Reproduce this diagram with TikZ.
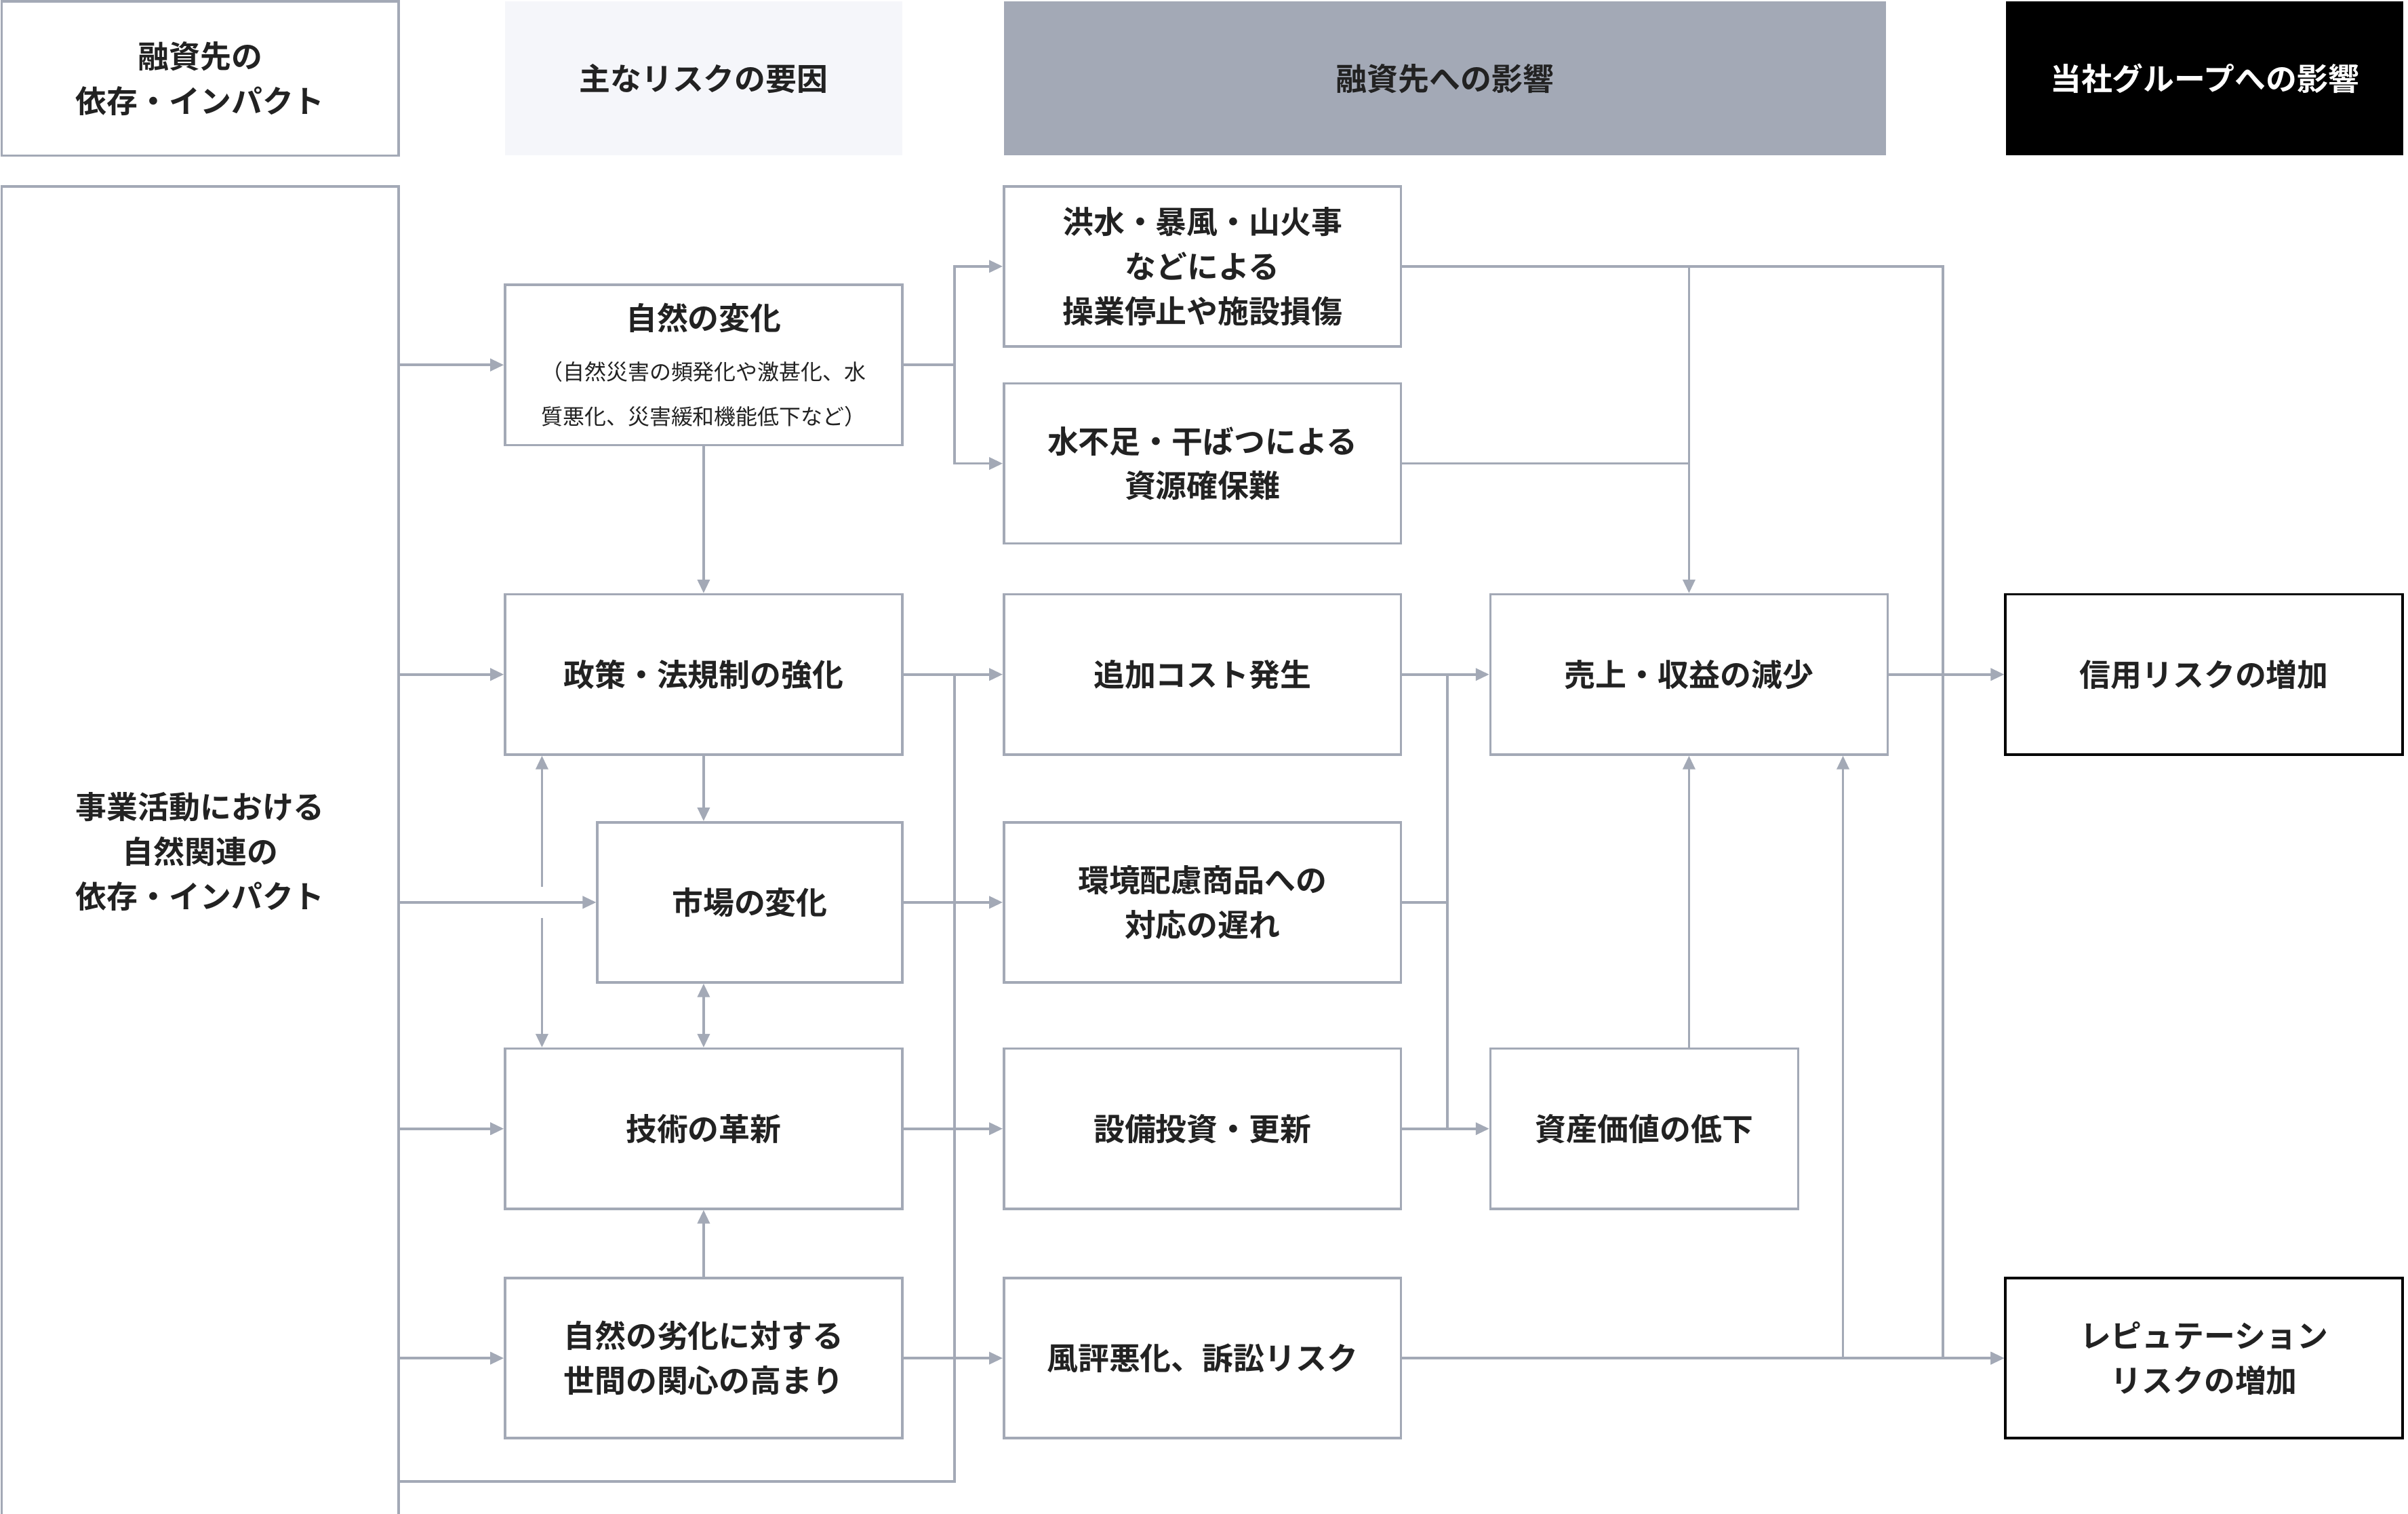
\documentclass[tikz,border=0pt]{standalone}
\usepackage{fontspec}
\setmainfont{Noto Sans CJK JP}[BoldFont={* Bold}]
\usetikzlibrary{arrows.meta,positioning}
\definecolor{lg}{HTML}{A3A9B6}
\definecolor{pale}{HTML}{F5F6FA}
\definecolor{tx}{HTML}{222222}
\tikzset{
  box/.style={draw=lg,line width=0.9pt,fill=white,minimum width=5.16cm,minimum height=2.08cm,
    inner sep=0pt,align=center,text=tx,font=\fontsize{11.5}{16.5}\selectfont\bfseries},
  bbox/.style={box,draw=black},
  hd/.style={box,minimum height=2cm},
  ln/.style={draw=lg,line width=0.9pt},
  arr/.style={ln,-{Triangle[length=5pt,width=4.5pt]}},
  arr2/.style={ln,{Triangle[length=5pt,width=4.5pt]}-{Triangle[length=5pt,width=4.5pt]}},
}
\begin{document}
\begin{tikzpicture}[x=0.02cm,y=-0.02cm]
\useasboundingbox[fill=white] (0,0) rectangle (1564,983);
% headers
\node[hd] (h1) at (130,51) {融資先の\\依存・インパクト};
\node[hd,draw=none,fill=pale] (h2) at (457,51) {主なリスクの要因};
\node[hd,draw=none,fill=lg,minimum width=11.46cm] (h3) at (938.5,51) {融資先への影響};
\node[hd,draw=none,fill=black,text=white] (h4) at (1432,51) {当社グループへの影響};
% left
\node[box,minimum height=17.28cm] (dep) at (130,553) {事業活動における\\自然関連の\\依存・インパクト};
% factors
\node[box] (nat) at (457,237) {自然の変化\\[2pt]\fontsize{8}{12}\selectfont\mdseries （自然災害の頻発化や激甚化、水\\\fontsize{8}{12}\selectfont\mdseries 質悪化、災害緩和機能低下など）};
\node[box] (pol) at (457,438) {政策・法規制の強化};
\node[box,minimum width=3.96cm] (mkt) at (487,586) {市場の変化};
\node[box] (tec) at (457,733) {技術の革新};
\node[box] (soc) at (457,882) {自然の劣化に対する\\世間の関心の高まり};
% impacts
\node[box] (fld) at (781,173) {洪水・暴風・山火事\\などによる\\操業停止や施設損傷};
\node[box] (wat) at (781,301) {水不足・干ばつによる\\資源確保難};
\node[box] (cst) at (781,438) {追加コスト発生};
\node[box] (eco) at (781,586) {環境配慮商品への\\対応の遅れ};
\node[box] (inv) at (781,733) {設備投資・更新};
\node[box] (rep) at (781,882) {風評悪化、訴訟リスク};
\node[box] (rev) at (1097,438) {売上・収益の減少};
\node[box,minimum width=4cm] (ast) at (1068,733) {資産価値の低下};
% group
\node[bbox] (crd) at (1431.5,438) {信用リスクの増加};
\node[bbox] (rpr) at (1431.5,882) {レピュテーション\\リスクの増加};
% junctions
\coordinate (jn) at (620,237);
\coordinate (jb) at (620,962);
\coordinate (jm) at (940,586);
\coordinate (jr) at (1262,173);
\coordinate (jp) at (1197,882);
\coordinate (ja) at (352,576);
\coordinate (jc) at (352,596);
% left to factors
\foreach \n in {nat,pol,mkt,tec,soc} \draw[arr] (dep.east|-\n.west) -- (\n.west);
\draw[ln] (dep.east|-jb) -- (jb) -- (jb|-pol.east);
% factors
\draw[ln] (nat.east) -- (jn);
\draw[arr] (jn) |- (fld.west);
\draw[arr] (jn) |- (wat.west);
\draw[arr] (nat) -- (pol);
\draw[arr] (pol.south) -- (pol|-mkt.north);
\draw[arr2] (tec|-mkt.south) -- (tec.north);
\draw[arr] (ja) -- (ja|-pol.south);
\draw[arr] (jc) -- (jc|-tec.north);
\draw[arr] (soc) -- (tec);
\draw[arr] (pol) -- (cst);
\draw[arr] (mkt) -- (eco);
\draw[arr] (tec) -- (inv);
\draw[arr] (soc) -- (rep);
% impacts
\draw[arr] (cst) -- (rev);
\draw[ln] (eco.east) -- (jm);
\draw[ln] (jm|-cst.east) -- (jm|-inv.east);
\draw[arr] (inv) -- (ast);
\draw[arr] (rev|-ast.north) -- (rev.south);
\draw[arr] (fld.east) -| (jr|-rpr.west) -- (rpr.west);
\draw[arr] (rev.north|-fld.east) -- (rev.north);
\draw[ln] (wat.east) -- (rev.north|-wat.east);
\draw[arr] (rep) -- (rpr);
\draw[arr] (jp) -- (jp|-rev.south);
\draw[arr] (rev) -- (crd);
\end{tikzpicture}
\end{document}
